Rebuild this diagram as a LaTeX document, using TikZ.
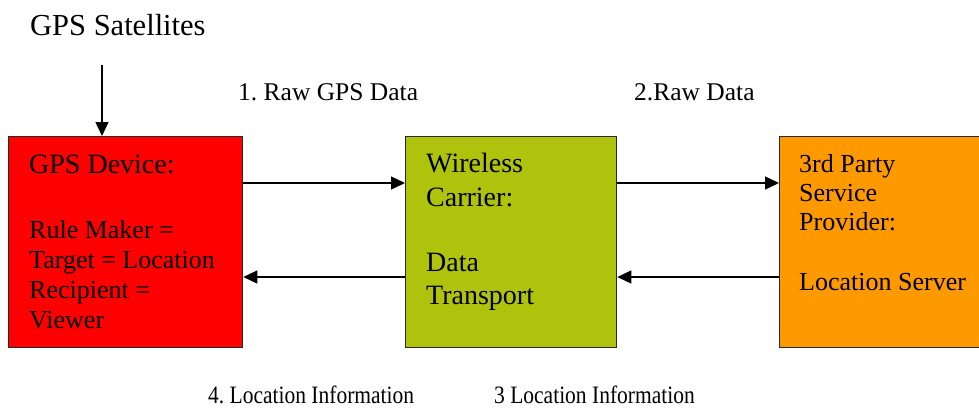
\documentclass[tikz,border=0pt]{standalone}
\usepackage{fontspec}
\setmainfont{Liberation Serif}
\usetikzlibrary{arrows.meta}
\frenchspacing
\definecolor{boxred}{RGB}{255,0,0}
\definecolor{boxgreen}{RGB}{175,195,13}
\definecolor{boxorange}{RGB}{255,153,0}
\definecolor{edge}{RGB}{40,40,40}
\tikzset{
  box/.style={draw=edge, line width=1.3pt, rectangle, inner sep=0pt, anchor=north west},
  arr/.style={draw=black, line width=1.4pt, -{Triangle[length=14pt,width=13pt]}},
  txt/.style={anchor=base west, inner sep=0pt, text=black},
  head/.style={txt, font=\fontsize{28}{33}\selectfont},
  body/.style={txt, font=\fontsize{26}{30}\selectfont},
  lbl/.style={txt, font=\fontsize{25.5}{30}\selectfont},
  lblb/.style={txt, font=\fontsize{25}{29}\selectfont, xscale=0.86, transform shape},
}
\begin{document}
\begin{tikzpicture}[x=1pt,y=-1pt]
\useasboundingbox (0,0) rectangle (979,408);
% boxes
\node[box, fill=boxred, minimum width=234pt, minimum height=211pt] (red) at (8,136) {};
\node[box, fill=boxgreen, minimum width=211pt, minimum height=211pt] (green) at (405,136) {};
\node[box, fill=boxorange, minimum width=220pt, minimum height=211pt] (orange) at (779,136) {};
% title
\node[txt, font=\fontsize{30.5}{35}\selectfont] (sat) at (30,35) {GPS Satellites};
\coordinate (satend) at (102,65);
\draw[arr] (satend) -- (satend |- red.north);
% red box text
\node[head] (rt1) at (29,173) {GPS Device:};
\node[body] (rt2) at (29,238) {Rule Maker =};
\node[body] (rt3) at (29,268) {Target = Location};
\node[body] (rt4) at (29,298) {Recipient =};
\node[body] (rt5) at (29,328) {Viewer};
% green box text
\node[head] (gt1) at (426,172) {Wireless};
\node[head] (gt2) at (426,206) {Carrier:};
\node[head] (gt3) at (426,271) {Data};
\node[head] (gt4) at (426,304) {Transport};
% orange box text
\node[body] (ot1) at (799,172) {3rd Party};
\node[body] (ot2) at (799,201) {Service};
\node[body] (ot3) at (799,230) {Provider:};
\node[body] (ot4) at (799,290) {Location Server};
% arrows
\draw[arr] (red.east |- 0,183) -- (green.west |- 0,183);
\draw[arr] (green.east |- 0,183) -- (orange.west |- 0,183);
\draw[arr] (green.west |- 0,277) -- (red.east |- 0,277);
\draw[arr] (orange.west |- 0,277) -- (green.east |- 0,277);
% labels
\node[lbl] (l1) at (238,100) {1. Raw GPS Data};
\node[lbl] (l2) at (634,100) {2.Raw Data};
\node[lblb] (l4) at (208,403) {4. Location Information};
\node[lblb] (l3) at (494,403) {3 Location Information};
\end{tikzpicture}
\end{document}
